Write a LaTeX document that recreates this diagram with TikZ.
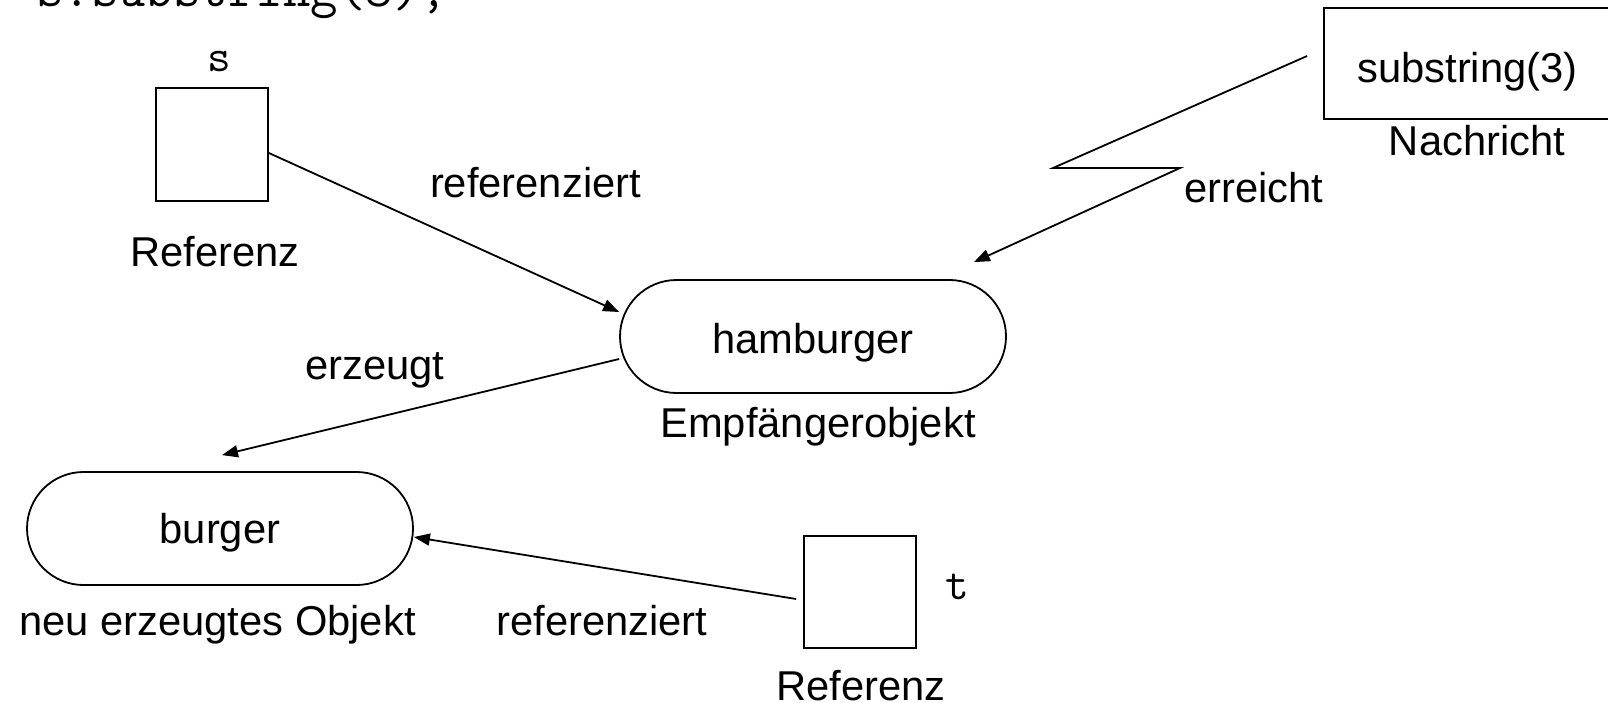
\documentclass[tikz,border=0pt]{standalone}
\usepackage{fontspec}
\setmainfont{Liberation Sans}
\usetikzlibrary{arrows.meta}
\begin{document}
\begin{tikzpicture}[x=1pt,y=-1pt,
  every node/.style={font=\fontsize{41.7}{50}\selectfont, inner sep=0pt},
  refbox/.style={draw, line width=1.8pt, minimum width=112pt, minimum height=113pt},
  objbox/.style={draw, line width=1.8pt, rounded corners=56.5pt, minimum width=386pt, minimum height=113pt},
  lbl/.style={anchor=base},
  codelbl/.style={anchor=base, font=\ttfamily\fontsize{46}{52}\selectfont},
  arr/.style={line width=1.8pt, -{Triangle[length=16pt,width=12pt]}},
  bolt/.style={line width=1.8pt, line join=miter, -{Triangle[length=16pt,width=12pt]}}
]
\useasboundingbox (0,0) rectangle (1608,703);

% code line at the top (clipped by the page)
\node[anchor=base west, font=\ttfamily\fontsize{53.3}{60}\selectfont] (code) at (36,7) {s.substring(3);};

% references
\node[refbox] (sbox) at (212,144.5) {};
\node[codelbl] (lblS) at (219,72) {s};
\node[lbl] (refA) at (215,267) {Referenz};

\node[refbox, minimum height=112pt] (tbox) at (860,592) {};
\node[codelbl] (lblT) at (957,599) {t};
\node[lbl] (refB) at (861,700) {Referenz};

% objects
\node[objbox, text height=39pt, text depth=6pt] (ham) at (813,336.5) {hamburger};
\node[lbl] (empf) at (818,437) {Empfängerobjekt};

\node[objbox, text height=35pt, text depth=6pt] (burger) at (220,528.5) {burger};
\node[lbl] (neu) at (217.5,635) {neu erzeugtes Objekt};

% message
\node[draw, line width=1.8pt, minimum width=287pt, minimum height=111pt,
      text height=45pt, text depth=6pt] (msg) at (1467.5,63.5) {substring(3)};
\node[lbl] (nach) at (1477,156) {Nachricht};

% connector labels
\node[lbl] (ref1) at (535.5,198) {referenziert};
\node[lbl] (erz) at (375,379) {erzeugt};
\node[lbl] (ref2) at (602,635) {referenziert};
\node[lbl] (err) at (1254,203) {erreicht};

% connectors
\draw[arr] ([yshift=-8.5pt]sbox.east) -- ([yshift=24.5pt]ham.west);
\draw[arr] ([yshift=-22.5pt]ham.west) -- ([xshift=2pt,yshift=16pt]burger.north);
\draw[arr] ([xshift=-7pt,yshift=-7pt]tbox.west) -- ([yshift=-8.5pt]burger.east);
\draw[bolt] ([xshift=-16pt,yshift=7.5pt]msg.west) -- (1053,168) -- (1180,168)
      -- ([xshift=-33pt,yshift=17pt]ham.north east);
\end{tikzpicture}
\end{document}
